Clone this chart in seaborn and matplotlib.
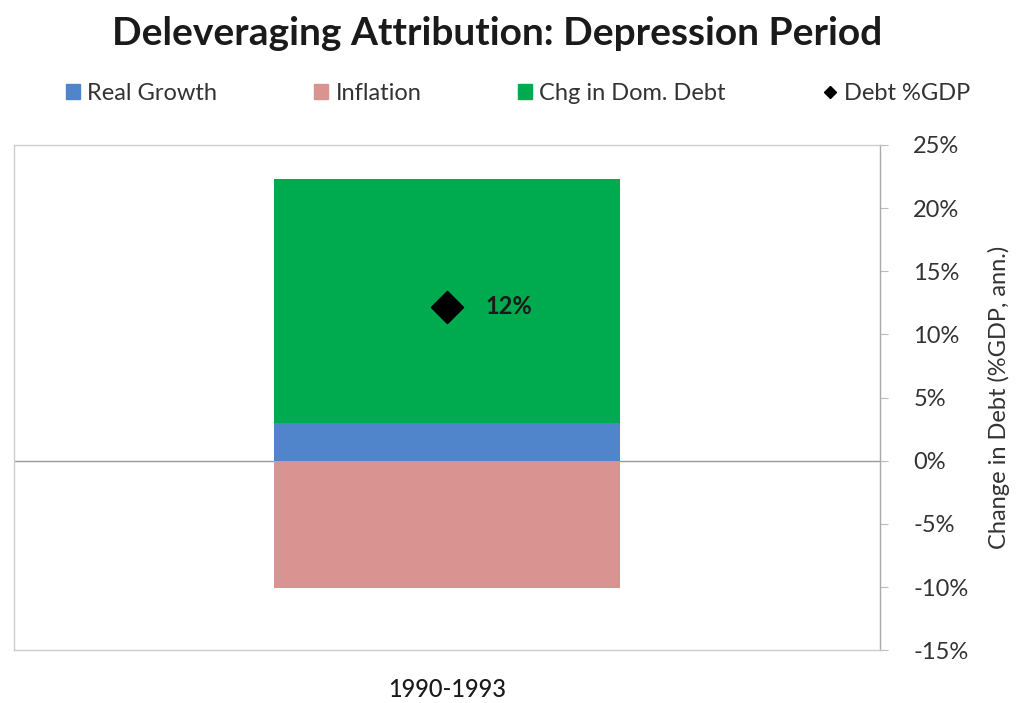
import pandas as pd
import matplotlib
matplotlib.use("Agg")
import matplotlib.pyplot as plt
from matplotlib.lines import Line2D
from matplotlib.patches import Patch
import seaborn as sns

# data
period = ["1990-1993"]
real_growth = [3.0]
inflation = [-10.1]
chg_dom_debt = [19.3]
debt_gdp = [12.2]
debt_label = ["12%"]
yticks = [-15, -10, -5, 0, 5, 10, 15, 20, 25]

c_growth = "#5085cc"
c_infl = "#d99391"
c_debt = "#00aa4f"

sns.set_style("white")
plt.rcParams['font.family'] = ['Lato', 'DejaVu Sans']

df = pd.DataFrame({"period": period, "growth": real_growth, "infl": inflation,
                   "debt": chg_dom_debt, "gdp": debt_gdp})

fig = plt.figure(figsize=(10.26, 7.03), dpi=100)
ax = fig.add_axes([0.0136, 0.075, 0.844, 0.719])

kw = dict(width=0.4, ax=ax, saturation=1, linewidth=0)
sns.barplot(data=df, x="period", y="infl", color=c_infl, **kw)
sns.barplot(data=df, x="period", y="growth", color=c_growth, **kw)
sns.barplot(data=df, x="period", y="debt", color=c_debt, bottom=df["growth"], **kw)
sns.scatterplot(data=df, x="period", y="gdp", marker="D", s=260, color="black",
                edgecolor="black", ax=ax, zorder=5)
for i, (v, lab) in enumerate(zip(debt_gdp, debt_label)):
    ax.annotate(lab, (i, v), xytext=(28, 0), textcoords="offset points", va="center",
                fontsize=17, fontweight="bold", color="#1a1a1a")

ax.axhline(0, color="#999999", lw=1, zorder=0)
ax.set_xlim(-0.5, 0.5)
ax.set_ylim(-15, 25)
ax.yaxis.tick_right()
ax.yaxis.set_label_position("right")
ax.set_yticks(yticks)
ax.set_yticklabels([f"{t}%" for t in yticks], fontsize=17, color="#333333")
ax.tick_params(axis="y", direction="out", length=6, color="#bbbbbb", pad=18)
ax.tick_params(axis="x", length=0, labelsize=17, pad=20)
ax.set_xticks([0])
ax.set_xticklabels(period, fontweight="medium", color="#1a1a1a")
ax.set_xlabel("")
ax.set_ylabel("Change in Debt (%GDP, ann.)", fontsize=17, color="#333333", labelpad=14)
for s in ax.spines.values():
    s.set_color("#cccccc")
    s.set_linewidth(1)
ax.spines["right"].set_color("#aaaaaa")

fig.text(0.485, 0.952, "Deleveraging Attribution: Depression Period", ha="center", va="center",
         fontsize=28, fontweight="bold", color="#1a1a1a")

handles = [Patch(color=c_growth, label="Real Growth"),
           Patch(color=c_infl, label="Inflation"),
           Patch(color=c_debt, label="Chg in Dom. Debt"),
           Line2D([], [], marker="D", color="black", ls="none", markersize=6, label="Debt %GDP")]
fig.legend(handles=handles, loc="center", bbox_to_anchor=(0.505, 0.867), ncol=4, frameon=False,
           fontsize=17, handlelength=0.6, handleheight=0.6, handletextpad=0.3, columnspacing=4.1,
           labelcolor="#333333")

fig.savefig("out.png", dpi=100)
